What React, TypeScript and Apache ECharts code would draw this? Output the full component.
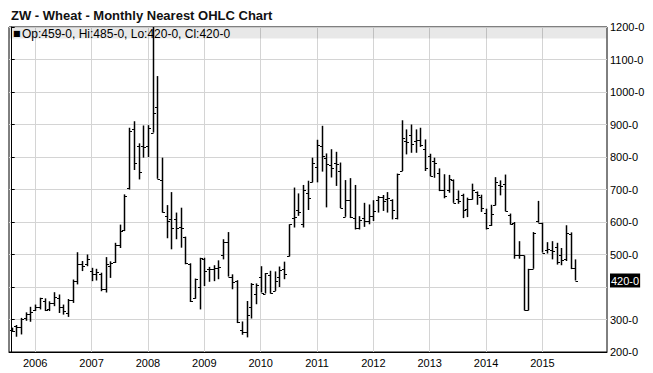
import React, { useEffect, useRef } from 'react';
import * as echarts from 'echarts';

const months = [
  '2005-08','2005-09','2005-10','2005-11','2005-12',
  '2006-01','2006-02','2006-03','2006-04','2006-05','2006-06','2006-07','2006-08','2006-09','2006-10','2006-11','2006-12',
  '2007-01','2007-02','2007-03','2007-04','2007-05','2007-06','2007-07','2007-08','2007-09','2007-10','2007-11','2007-12',
  '2008-01','2008-02','2008-03','2008-04','2008-05','2008-06','2008-07','2008-08','2008-09','2008-10','2008-11','2008-12',
  '2009-01','2009-02','2009-03','2009-04','2009-05','2009-06','2009-07','2009-08','2009-09','2009-10','2009-11','2009-12',
  '2010-01','2010-02','2010-03','2010-04','2010-05','2010-06','2010-07','2010-08','2010-09','2010-10','2010-11','2010-12',
  '2011-01','2011-02','2011-03','2011-04','2011-05','2011-06','2011-07','2011-08','2011-09','2011-10','2011-11','2011-12',
  '2012-01','2012-02','2012-03','2012-04','2012-05','2012-06','2012-07','2012-08','2012-09','2012-10','2012-11','2012-12',
  '2013-01','2013-02','2013-03','2013-04','2013-05','2013-06','2013-07','2013-08','2013-09','2013-10','2013-11','2013-12',
  '2014-01','2014-02','2014-03','2014-04','2014-05','2014-06','2014-07','2014-08','2014-09','2014-10','2014-11','2014-12',
  '2015-01','2015-02','2015-03','2015-04','2015-05','2015-06','2015-07','2015-08',
];

const opens = [
  268, 280, 276, 305, 318, 330, 340, 356, 332, 350,
  365, 340, 320, 360, 420, 470, 470, 450, 440, 440,
  395, 465, 478, 530, 575, 705, 885, 835, 835, 835,
  875, 955, 730, 618, 610, 608, 585, 555, 472, 365,
  400, 485, 455, 455, 460, 497, 540, 432, 420, 268,
  262, 340, 378, 431, 380, 436, 388, 431, 455, 494,
  612, 636, 593, 690, 722, 770, 834, 798, 776, 783,
  757, 616, 667, 613, 583, 613, 603, 618, 667, 677,
  670, 667, 613, 757, 849, 868, 849, 851, 824, 803,
  788, 752, 697, 700, 728, 670, 683, 639, 672, 692,
  677, 629, 590, 651, 715, 718, 623, 598, 500, 497,
  328, 456, 602, 597, 513, 513, 523, 497, 485, 562, 459,
];

const highs = [
  275, 283, 305, 322, 339, 346, 367, 365, 356, 384,
  377, 346, 363, 423, 507, 480, 500, 459, 456, 444,
  492, 479, 536, 592, 685, 890, 910, 842, 897, 898,
  1349, 1049, 798, 652, 692, 629, 644, 555, 473, 426,
  490, 490, 462, 467, 482, 547, 569, 439, 421, 294,
  357, 412, 411, 464, 443, 450, 448, 463, 478, 593,
  706, 688, 714, 727, 798, 853, 896, 811, 824, 816,
  783, 729, 735, 714, 618, 659, 654, 667, 680, 683,
  692, 670, 749, 913, 885, 900, 885, 890, 854, 810,
  798, 765, 747, 745, 731, 697, 687, 675, 718, 694,
  684, 641, 653, 738, 728, 746, 626, 600, 541, 497,
  456, 569, 665, 598, 538, 541, 536, 520, 590, 568, 485,
];

const lows = [
  262, 247, 254, 296, 293, 326, 331, 326, 326, 341,
  320, 315, 308, 351, 408, 449, 464, 418, 420, 387,
  383, 428, 474, 520, 572, 700, 760, 731, 798, 800,
  875, 733, 629, 550, 516, 547, 521, 470, 354, 364,
  331, 403, 416, 418, 424, 485, 432, 393, 289, 253,
  245, 303, 347, 383, 380, 380, 388, 400, 424, 494,
  583, 619, 583, 637, 722, 722, 755, 645, 737, 711,
  643, 616, 612, 577, 577, 585, 593, 603, 629, 634,
  629, 608, 608, 757, 808, 813, 813, 831, 757, 741,
  736, 695, 673, 690, 659, 656, 612, 615, 669, 653,
  631, 577, 588, 651, 682, 633, 592, 487, 487, 328,
  328, 456, 598, 506, 503, 485, 469, 467, 480, 455, 420,
];

const closes = [
  266, 278, 303, 318, 322, 340, 365, 330, 350, 370,
  340, 325, 360, 420, 470, 465, 485, 440, 445, 395,
  470, 475, 530, 572, 680, 880, 782, 755, 832, 890,
  934, 733, 630, 603, 583, 583, 583, 475, 357, 425,
  488, 450, 455, 458, 462, 540, 432, 415, 291, 262,
  314, 410, 406, 383, 442, 383, 419, 452, 439, 593,
  616, 630, 700, 673, 781, 837, 804, 778, 767, 778,
  643, 667, 614, 583, 605, 603, 618, 634, 677, 665,
  675, 636, 749, 857, 847, 839, 851, 837, 767, 741,
  783, 697, 680, 731, 660, 665, 636, 672, 700, 684,
  643, 582, 626, 723, 711, 633, 595, 500, 497, 328,
  456, 567, 598, 506, 518, 510, 477, 482, 565, 460, 420,
];

const yTicks = [200, 300, 400, 500, 600, 700, 800, 900, 1000, 1100, 1200];
const titleText = 'ZW - Wheat - Monthly Nearest OHLC Chart';

export default function App() {
  const ref = useRef<HTMLDivElement>(null);

  useEffect(() => {
    if (!ref.current) return;
    const chart = echarts.init(ref.current, null, { renderer: 'svg' });
    const last = months.length - 1;
    const lastClose = closes[last];
    const legendText = `Op:${opens[last]}-0, Hi:${highs[last]}-0, Lo:${lows[last]}-0, Cl:${closes[last]}-0`;
    const yearIdx = months.map((m, i) => (m.endsWith('-01') ? i : -1)).filter((i) => i >= 0);
    const data = months.map((m, i) => [i, opens[i], highs[i], lows[i], closes[i]]);
    const yLabels = [...yTicks.filter((v) => Math.abs(v - lastClose) >= 40), lastClose];

    chart.setOption({
      animation: false,
      backgroundColor: '#fff',
      title: {
        text: titleText,
        left: 6,
        top: 4,
        textStyle: { fontSize: 13, fontWeight: 'bold', fontFamily: 'Liberation Sans, Arial, sans-serif', color: '#111' },
      },
      grid: {
        left: 9,
        right: 46,
        top: 27,
        bottom: 21,
        show: true,
        borderColor: '#000',
        borderWidth: 1,
        backgroundColor: 'transparent',
      },
      xAxis: {
        type: 'value',
        min: -0.575,
        max: 126.74,
        axisLine: { show: true, lineStyle: { color: '#000', width: 1 } },
        axisTick: { show: false, customValues: yearIdx },
        axisLabel: {
          customValues: yearIdx,
          formatter: (v: number) => months[Math.round(v)].slice(0, 4),
          color: '#000',
          fontSize: 11,
          fontFamily: 'Liberation Sans, Arial, sans-serif',
          margin: 5,
        },
        splitLine: { show: true, lineStyle: { color: '#d4d4d4', width: 1 } },
      },
      yAxis: {
        type: 'value',
        position: 'right',
        min: 200,
        max: 1200,
        interval: 100,
        axisLine: { show: true, lineStyle: { color: '#000', width: 1 } },
        axisTick: { show: true, length: 3, lineStyle: { color: '#000' } },
        axisLabel: {
          customValues: yLabels,
          formatter: (v: number) => (v === lastClose ? `{cur|${v}-0}` : `${v}-0`),
          color: '#000',
          fontSize: 11,
          fontFamily: 'Liberation Sans, Arial, sans-serif',
          margin: 3,
          rich: {
            cur: {
              backgroundColor: '#000',
              color: '#fff',
              fontSize: 11,
              fontFamily: 'Liberation Sans, Arial, sans-serif',
              padding: [2, 1, 1, 1],
            },
          },
        },
        splitLine: { show: true, lineStyle: { color: '#d4d4d4', width: 1 } },
      },
      graphic: [
        {
          type: 'rect',
          z: 1,
          shape: { x: 9.5, y: 27.5, width: 597, height: 11 },
          style: { fill: 'rgba(0,0,0,0.09)' },
        },
        {
          type: 'text',
          z: 1,
          x: 13,
          y: 33.5,
          style: { text: '■', fontSize: 8, fill: '#000', verticalAlign: 'middle', fontFamily: 'DejaVu Sans' },
        },
        {
          type: 'text',
          z: 1,
          x: 22,
          y: 33.5,
          style: {
            text: legendText,
            fontSize: 12,
            fill: '#000',
            verticalAlign: 'middle',
            fontFamily: 'Liberation Sans, Arial, sans-serif',
          },
        },
      ],
      series: [
        {
          type: 'custom',
          clip: true,
          z: 3,
          data,
          encode: { x: 0, y: [1, 2, 3, 4] },
          renderItem: (params: any, api: any) => {
            const i = api.value(0);
            const pH = api.coord([i, api.value(2)]);
            const pL = api.coord([i, api.value(3)]);
            const pO = api.coord([i, api.value(1)]);
            const pC = api.coord([i, api.value(4)]);
            const top = params.coordSys.y;
            const x = Math.round(pH[0]) + 0.5;
            const st = { stroke: '#000', lineWidth: 1.5 };
            const tk = { stroke: '#000', lineWidth: 1 };
            return {
              type: 'group',
              children: [
                { type: 'line', shape: { x1: x, y1: Math.max(pH[1], top), x2: x, y2: pL[1] }, style: st },
                { type: 'line', shape: { x1: x - 2.5, y1: Math.round(pO[1]) + 0.5, x2: x, y2: Math.round(pO[1]) + 0.5 }, style: tk },
                { type: 'line', shape: { x1: x, y1: Math.round(pC[1]) + 0.5, x2: x + 2.5, y2: Math.round(pC[1]) + 0.5 }, style: tk },
              ],
            };
          },
        },
      ],
    });

    return () => chart.dispose();
  }, []);

  return (
    <div
      ref={ref}
      style={{ position: 'fixed', left: 0, top: 0, width: 653, height: 373, background: '#fff' }}
    />
  );
}
